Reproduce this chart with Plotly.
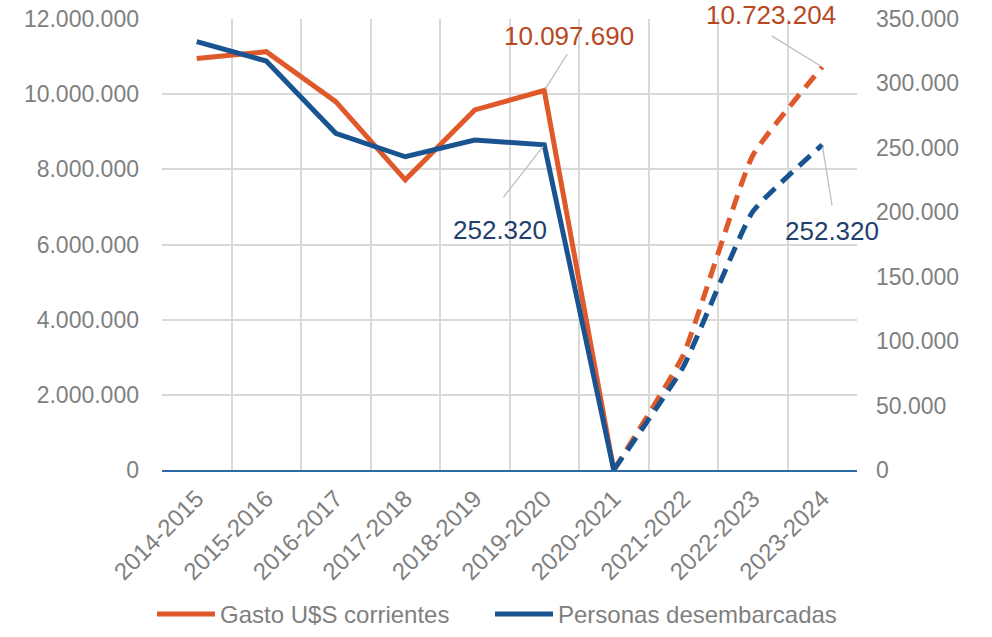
import plotly.graph_objects as go

categories = ["2014-2015", "2015-2016", "2016-2017", "2017-2018", "2018-2019",
              "2019-2020", "2020-2021", "2021-2022", "2022-2023", "2023-2024"]
gasto = [10950000, 11130000, 9800000, 7720000, 9580000, 10097690, 0, 3060000, 8370000, 10723204]
personas = [332400, 317400, 261300, 243100, 256100, 252320, 0, 80000, 200500, 252320]
left_ticks = [0, 2000000, 4000000, 6000000, 8000000, 10000000, 12000000]
right_ticks = [0, 50000, 100000, 150000, 200000, 250000, 300000, 350000]

ORANGE = "#E0592A"
BLUE = "#1A5490"
ORANGE_TXT = "#B8481E"
BLUE_TXT = "#1F3F6E"
GREY = "#808080"
FONT = "Liberation Sans, Arial, sans-serif"

split = categories.index("2020-2021")

fig = go.Figure()
fig.add_trace(go.Scatter(x=categories[:split + 1], y=gasto[:split + 1], mode="lines",
                         name="Gasto U$S corrientes", legend="legend",
                         line=dict(color=ORANGE, width=5)))
fig.add_trace(go.Scatter(x=categories[:split + 1], y=personas[:split + 1], mode="lines",
                         name="Personas desembarcadas", yaxis="y2", legend="legend2",
                         line=dict(color=BLUE, width=5)))
fig.add_trace(go.Scatter(x=categories[split:], y=gasto[split:], mode="lines", showlegend=False,
                         line=dict(color=ORANGE, width=5, dash="15px,9px", shape="spline", smoothing=0.4)))
fig.add_trace(go.Scatter(x=categories[split:], y=personas[split:], mode="lines", showlegend=False,
                         yaxis="y2",
                         line=dict(color=BLUE, width=5, dash="15px,9px", shape="spline", smoothing=0.4)))

def fmt(v):
    return f"{v:,.0f}".replace(",", ".")

labels = [
    # (category index, value, yref, color, text shift x, y, leader ax, ay)
    (5, gasto[5], "y", ORANGE_TXT, 25, 55, 24, -38),
    (5, personas[5], "y2", BLUE_TXT, -44, -85, -42, 54),
    (9, gasto[9], "y", ORANGE_TXT, -51, 52, -52, -32),
    (9, personas[9], "y2", BLUE_TXT, 10, -86, 10, 62),
]
for idx, val, yref, col, sx, sy, ax, ay in labels:
    fig.add_annotation(x=categories[idx], y=val, xref="x", yref=yref, text="",
                       showarrow=True, arrowhead=0, arrowwidth=1.3, arrowcolor="#BFBFBF",
                       ax=ax, ay=ay, standoff=2)
    fig.add_annotation(x=categories[idx], y=val, xref="x", yref=yref, text=fmt(val),
                       showarrow=False, xshift=sx, yshift=sy,
                       font=dict(family=FONT, size=26, color=col))

legend_common = dict(orientation="h", xanchor="left", xref="container",
                     y=0.0, yanchor="bottom", yref="container",
                     font=dict(family=FONT, size=24, color=GREY), itemwidth=58,
                     bgcolor="rgba(0,0,0,0)")

fig.update_layout(
    width=992, height=637,
    margin=dict(l=162, r=135, t=19, b=167),
    plot_bgcolor="white", paper_bgcolor="white",
    separators=",.",
    font=dict(family=FONT, size=23, color=GREY),
    showlegend=True,
    legend=dict(x=152 / 992, **legend_common),
    legend2=dict(x=490 / 992, **legend_common),
    xaxis=dict(type="category", tickson="boundaries", showgrid=True, gridcolor="#D9D9D9",
               gridwidth=2, tickangle=-45, ticks="", ticklabelstandoff=3,
               showline=True, linecolor="#2E6BA6", linewidth=2, automargin=False,
               tickfont=dict(family=FONT, size=24, color=GREY), range=[-0.5, 9.5]),
    yaxis=dict(range=[0, 12000000], tickvals=left_ticks, tickformat=",d",
               showgrid=True, gridcolor="#D9D9D9", gridwidth=2, zeroline=False,
               ticks="", ticklabelstandoff=22, automargin=False,
               tickfont=dict(family=FONT, size=23, color=GREY)),
    yaxis2=dict(range=[0, 350000], tickvals=right_ticks, tickformat=",d",
                overlaying="y", side="right", showgrid=False, zeroline=False,
                ticks="", ticklabelstandoff=18, automargin=False,
                tickfont=dict(family=FONT, size=23, color=GREY)),
)

fig.write_html("out.html", config={"displayModeBar": False},
               post_script="document.body.style.margin='0';")
